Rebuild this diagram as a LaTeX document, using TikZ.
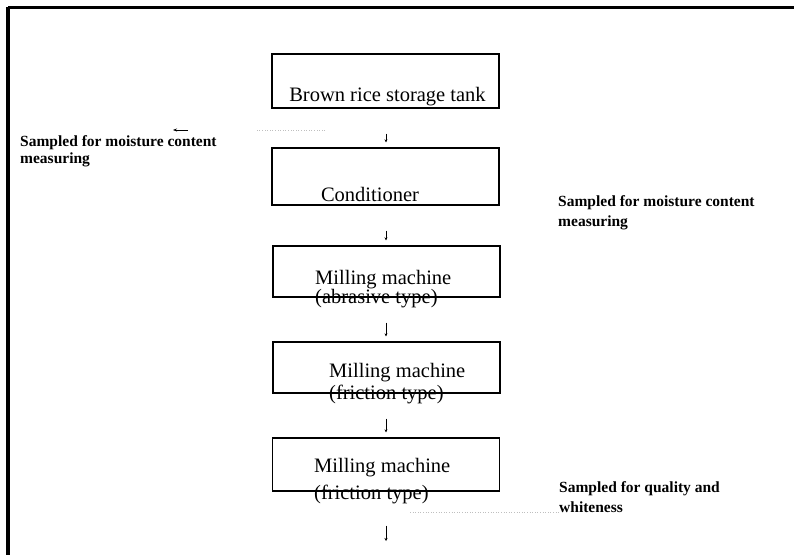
\documentclass[tikz,border=0pt]{standalone}
\usepackage{fontspec}
\setmainfont{Liberation Serif}
\usetikzlibrary{arrows.meta}
\begin{document}
\begin{tikzpicture}[x=1pt,y=-1pt,
  box/.style={draw=black,line width=1.3pt,inner sep=0pt,minimum width=227pt},
  boxtext/.style={inner sep=0pt,font=\fontsize{20.5}{22}\selectfont},
  twoline/.style={inner sep=0pt,align=left,anchor=west},
  lbl/.style={inner sep=0pt,align=left,anchor=west},
  flow/.style={draw=black,line width=1pt,-{Stealth[length=3pt,width=3pt]},shorten <=25pt,shorten >=5pt},
  sample/.style={draw=black!25,line width=0.6pt,dotted}]
\useasboundingbox (0,0) rectangle (794,555);
% frame
\draw[line width=3pt] (8,7) -- (794,7);
\draw[line width=3.5pt] (8,7) -- (8,555);
% boxes
\node[box,minimum height=54pt] (b1) at (385.5,81) {};
\node[box,minimum height=57pt] (b2) at (385.5,176.5) {};
\node[box,minimum height=51pt] (b3) at (386.5,271.5) {};
\node[box,minimum height=51pt] (b4) at (386.5,367.5) {};
\node[box,minimum height=53pt] (b5) at (386,464.5) {};
% texts
\node[boxtext] (t1) at (387.5,97) {Brown rice storage tank};
\node[boxtext] (t2) at (370,194) {Conditioner};
\node[twoline,font=\fontsize{20.5}{18}\selectfont] (t3) at (315,289) {Milling machine\\(abrasive type)};
\node[twoline,font=\fontsize{20.5}{22}\selectfont] (t4) at (329,384) {Milling machine\\(friction type)};
\node[twoline,font=\fontsize{20.5}{27}\selectfont] (t5) at (314,481.5) {Milling machine\\(friction type)};
% labels
\node[lbl,font=\bfseries\fontsize{15.5}{17}\selectfont] (l1) at (20,151.5) {Sampled for moisture content\\measuring};
\node[lbl,font=\bfseries\fontsize{15.5}{20}\selectfont] (l2) at (558,213) {Sampled for moisture content\\measuring};
\node[lbl,font=\bfseries\fontsize{15.5}{20}\selectfont] (l3) at (559,497) {Sampled for quality and\\whiteness};
% connectors
\coordinate (out) at (386,541);
\draw[flow] (b1.south -| 386,0) -- (b2.north -| 386,0);
\draw[flow] (b2.south -| 386,0) -- (b3.north -| 386,0);
\draw[flow] (b3.south -| 386,0) -- (b4.north -| 386,0);
\draw[flow] (b4.south -| 386,0) -- (b5.north -| 386,0);
\draw[flow,shorten <=34pt,shorten >=0pt] (b5.south -| 386,0) -- (out);
% sampling lines
\coordinate (s1a) at (325,130);
\coordinate (s1b) at (188,130);
\coordinate (s1c) at (173,130);
\draw[sample] (s1a) -- (255,130);
\draw[line width=1pt,-{Stealth[length=4pt,width=3pt]}] (s1b) -- (s1c);
\coordinate (s2a) at (410,512);
\draw[sample] (s2a) -- (l3.west |- s2a);
\end{tikzpicture}
\end{document}
